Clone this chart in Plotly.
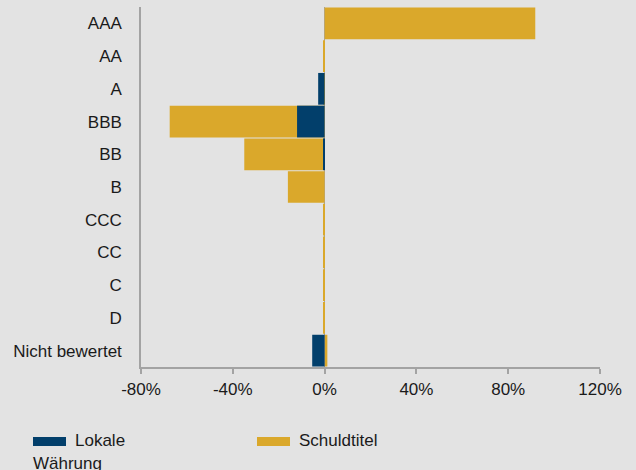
import plotly.graph_objects as go

categories = ["AAA", "AA", "A", "BBB", "BB", "B", "CCC", "CC", "C", "D", "Nicht bewertet"]
lokale_waehrung = [0, 0, -2.8, -12.0, -0.7, 0, 0, 0, 0, 0, -5.4]
schuldtitel = [91.8, -0.4, -0.4, -67.5, -35.0, -16.0, -0.4, -0.4, -0.4, -0.4, 1.2]
x_ticks = [-80, -40, 0, 40, 80, 120]

BLUE = "#023F6B"
GOLD = "#DAA82B"
BG = "#E3E3E3"
AXIS = "#A3A3A3"
TXT = "#1A1A1A"
FONT = "Liberation Sans"
FS = 17

fig = go.Figure()
fig.add_trace(go.Bar(y=categories, x=schuldtitel, orientation="h", name="Schuldtitel",
                     marker=dict(color=GOLD, line=dict(width=0))))
fig.add_trace(go.Bar(y=categories, x=lokale_waehrung, orientation="h", name="Lokale Währung",
                     marker=dict(color=BLUE, line=dict(width=0))))

fig.update_layout(
    width=636, height=470,
    paper_bgcolor=BG, plot_bgcolor=BG,
    barmode="overlay", bargap=0.03,
    showlegend=False,
    margin=dict(l=141, r=36, t=7, b=103),
    font=dict(family=FONT, size=FS, color=TXT),
)
fig.update_xaxes(
    range=[-80, 120], tickvals=x_ticks, ticktext=[f"{v}%" for v in x_ticks],
    showgrid=False, zeroline=True, zerolinecolor=AXIS, zerolinewidth=1,
    showline=True, linecolor=AXIS, linewidth=1.5,
    ticks="outside", ticklen=5, tickcolor=AXIS, tickwidth=1.5,
    ticklabelstandoff=1, fixedrange=True,
)
fig.update_yaxes(
    autorange="reversed", showgrid=False, zeroline=False,
    showline=True, linecolor=AXIS, linewidth=1.5, ticks="",
    ticklabelstandoff=14, fixedrange=True,
)

# custom legend
W, H = 459.0, 360.0
def px_x(p):
    return (p - 141) / W
def px_y(p):
    return (367 - p) / H

for x0, x1, col in [(33, 66, BLUE), (257, 290, GOLD)]:
    fig.add_shape(type="rect", xref="paper", yref="paper",
                  x0=px_x(x0), x1=px_x(x1), y0=px_y(446), y1=px_y(437),
                  fillcolor=col, line=dict(width=0))
for txt, x, y in [("Lokale", 73, 440), ("Währung", 31, 463), ("Schuldtitel", 297, 440)]:
    fig.add_annotation(text=txt, xref="paper", yref="paper", x=px_x(x), y=px_y(y),
                       xanchor="left", yanchor="middle", showarrow=False,
                       font=dict(family=FONT, size=FS, color=TXT))

fig.write_html("out.html", config={"displayModeBar": False},
               post_script="document.body.style.margin='0';document.body.style.overflow='hidden';")
